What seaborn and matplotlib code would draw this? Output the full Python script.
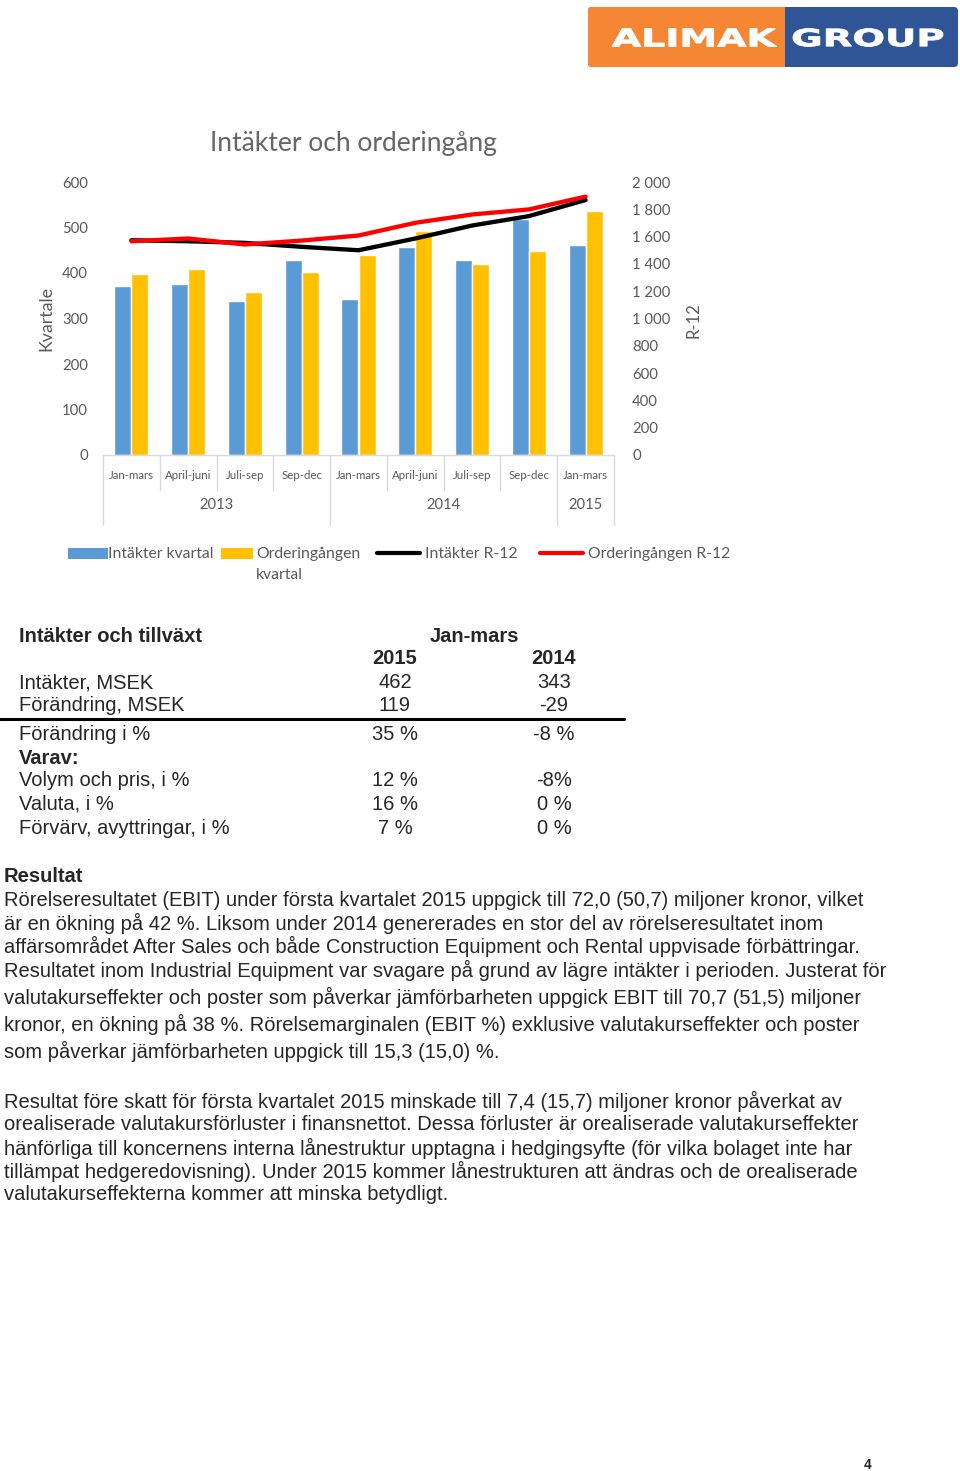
import numpy as np
import pandas as pd
import matplotlib
matplotlib.use("Agg")
import matplotlib.pyplot as plt
import seaborn as sns
from matplotlib.patches import Rectangle, FancyBboxPatch, PathPatch
from matplotlib.lines import Line2D
from matplotlib.textpath import TextPath
from matplotlib.font_manager import FontProperties
from matplotlib.transforms import Affine2D, blended_transform_factory
from matplotlib.ticker import FuncFormatter, MultipleLocator

# ---------------- data ----------------
quarters = ["Jan-mars", "April-juni", "Juli-sep", "Sep-dec",
            "Jan-mars", "April-juni", "Juli-sep", "Sep-dec", "Jan-mars"]
years = ["2013", "2014", "2015"]
year_counts = [4, 4, 1]
intakter_kvartal = [372, 375, 339, 428, 343, 457, 429, 518, 462]
order_kvartal = [398, 409, 359, 402, 439, 492, 420, 449, 536]
intakter_r12 = [1573, 1566, 1554, 1525, 1500, 1586, 1681, 1750, 1868]
order_r12 = [1566, 1586, 1542, 1571, 1608, 1701, 1762, 1799, 1893]
series_names = ["Intäkter kvartal", "Orderingången\nkvartal", "Intäkter R-12", "Orderingången R-12"]

table_title = "Intäkter och tillväxt"
table_period = "Jan-mars"
table_years = ["2015", "2014"]
table_rows = ["Intäkter, MSEK", "Förändring, MSEK", "Förändring i %", "Varav:",
              "Volym och pris, i %", "Valuta, i %", "Förvärv, avyttringar, i %"]
col_2015 = ["462", "119", "35 %", "", "12 %", "16 %", "7 %"]
col_2014 = ["343", "-29", "-8 %", "", "-8%", "0 %", "0 %"]

body_heading = "Resultat"
para1 = [
    "Rörelseresultatet (EBIT) under första kvartalet 2015 uppgick till 72,0 (50,7) miljoner kronor, vilket",
    "är en ökning på 42 %. Liksom under 2014 genererades en stor del av rörelseresultatet inom",
    "affärsområdet After Sales och både Construction Equipment och Rental uppvisade förbättringar.",
    "Resultatet inom Industrial Equipment var svagare på grund av lägre intäkter i perioden. Justerat för",
    "valutakurseffekter och poster som påverkar jämförbarheten uppgick EBIT till 70,7 (51,5) miljoner",
    "kronor, en ökning på 38 %. Rörelsemarginalen (EBIT %) exklusive valutakurseffekter och poster",
    "som påverkar jämförbarheten uppgick till 15,3 (15,0) %.",
]
para2 = [
    "Resultat före skatt för första kvartalet 2015 minskade till 7,4 (15,7) miljoner kronor påverkat av",
    "orealiserade valutakursförluster i finansnettot. Dessa förluster är orealiserade valutakurseffekter",
    "hänförliga till koncernens interna lånestruktur upptagna i hedgingsyfte (för vilka bolaget inte har",
    "tillämpat hedgeredovisning). Under 2015 kommer lånestrukturen att ändras och de orealiserade",
    "valutakurseffekterna kommer att minska betydligt.",
]
page_number = "4"

# ---------------- style ----------------
sns.set_theme(style="white")
plt.rcParams["font.family"] = ["Lato", "DejaVu Sans"]

W, H = 960, 1471
fig = plt.figure(figsize=(W / 100, H / 100), dpi=100)
fig.patch.set_facecolor("white")

def fx(x):
    return x / W

def fy(y):
    return 1 - y / H

BLUE = "#5B9BD5"
YELLOW = "#FFC000"
GRAY = "#595959"
LGRAY = "#D9D9D9"

# ---------------- logo ----------------
lax = fig.add_axes([fx(588), fy(67), fx(958 - 588), 60 / H])
lax.set_xlim(0, 370)
lax.set_ylim(0, 60)
lax.axis("off")
blue_box = FancyBboxPatch((0, 0), 370, 60, boxstyle="round,pad=0,rounding_size=4",
                          fc="#2F5597", ec="none")
lax.add_patch(blue_box)
orange_box = FancyBboxPatch((0, 0), 370, 60, boxstyle="round,pad=0,rounding_size=4",
                            fc="#F58634", ec="none")
lax.add_patch(orange_box)
clip = Rectangle((0, 0), 197, 60, transform=lax.transData)
orange_box.set_clip_path(clip)

def logo_word(word, x0, x1, y0, y1):
    tp = TextPath((0, 0), word, size=1,
                  prop=FontProperties(family="DejaVu Sans", weight="bold"))
    ext = tp.get_extents()
    tr = (Affine2D().translate(-ext.x0, -ext.y0)
          .scale((x1 - x0) / ext.width, (y1 - y0) / ext.height)
          .translate(x0, y0))
    lax.add_patch(PathPatch(tr.transform_path(tp), fc="white", ec="white", lw=0.6))

logo_word("ALIMAK", 24, 189, 20.5, 38.5)
logo_word("GROUP", 205, 355, 20.5, 38.5)

# ---------------- chart ----------------
ax = fig.add_axes([fx(103), fy(455), fx(614 - 103), (455 - 182) / H])
idx = np.arange(len(quarters))
df = pd.DataFrame({
    "idx": np.concatenate([idx, idx]),
    "value": intakter_kvartal + order_kvartal,
    "serie": [series_names[0]] * len(idx) + [series_names[1]] * len(idx),
})
sns.barplot(data=df, x="idx", y="value", hue="serie", palette=[BLUE, YELLOW],
            width=0.6, saturation=1, ax=ax, legend=False)
ax.set_ylim(0, 600)
ax.yaxis.set_major_locator(MultipleLocator(100))
ax.set_xlim(-0.5, len(quarters) - 0.5)
for s in ["top", "left", "right"]:
    ax.spines[s].set_visible(False)
ax.spines["bottom"].set_color(LGRAY)
ax.spines["bottom"].set_linewidth(1)
ax.tick_params(axis="y", length=0, pad=11, labelsize=10.7, labelcolor=GRAY)
ax.set_xticks(idx)
ax.set_xticklabels(quarters)
ax.tick_params(axis="x", length=0, pad=10.5, labelsize=8.3, labelcolor=GRAY)
ax.set_xlabel("")
ax.set_ylabel("Kvartale", fontsize=12.8, color=GRAY)
ax.yaxis.set_label_coords(-0.096, 0.50)
ax.set_title("Intäkter och orderingång", fontsize=19, color="#666666", pad=22)
ax.title.set_x(0.49)

ax2 = ax.twinx()
sns.lineplot(x=idx, y=intakter_r12, color="black", lw=3.1, ax=ax2)
sns.lineplot(x=idx, y=order_r12, color="#FF0000", lw=3.1, ax=ax2)
ax2.set_ylim(0, 2000)
ax2.yaxis.set_major_locator(MultipleLocator(200))
ax2.yaxis.set_major_formatter(FuncFormatter(lambda v, p: f"{int(v):,}".replace(",", " ")))
for s in ax2.spines.values():
    s.set_visible(False)
ax2.tick_params(axis="y", length=0, pad=13, labelsize=10.7, labelcolor=GRAY)
ax2.set_ylabel("R-12", fontsize=12, color=GRAY)
ax2.yaxis.set_label_coords(1.14, 0.495)
ax.set_xlim(-0.5, len(quarters) - 0.5)

# multi-level category separators and year labels
btr = blended_transform_factory(ax.transData, ax.transAxes)
short_y = -(490 - 455) / 273
long_y = -(525 - 455) / 273
year_starts = np.concatenate([[0], np.cumsum(year_counts)])
for b in range(len(quarters) + 1):
    yb = long_y if b in year_starts else short_y
    ax.plot([b - 0.5, b - 0.5], [0, yb], transform=btr, color=LGRAY, lw=1, clip_on=False)
for i, yr in enumerate(years):
    cx = (year_starts[i] + year_starts[i + 1] - 1) / 2
    ax.text(cx, -(505 - 455) / 273, yr, transform=btr, ha="center", va="center",
            fontsize=10.6, color=GRAY)

# legend (manual placement matching the original)
LFS = 11.3
fig.add_artist(Rectangle((fx(68), fy(559)), fx(40), 11 / H, transform=fig.transFigure,
                         fc=BLUE, ec="none"))
fig.text(fx(108), fy(554), series_names[0], ha="left", va="center", fontsize=LFS, color=GRAY)
fig.add_artist(Rectangle((fx(221), fy(559)), fx(32), 11 / H, transform=fig.transFigure,
                         fc=YELLOW, ec="none"))
fig.text(fx(256), fy(554), series_names[1].split("\n")[0], ha="left", va="center",
         fontsize=LFS, color=GRAY)
fig.text(fx(256), fy(575), series_names[1].split("\n")[1], ha="left", va="center",
         fontsize=LFS, color=GRAY)
fig.add_artist(Line2D([fx(377), fx(420)], [fy(553), fy(553)], transform=fig.transFigure,
                      color="black", lw=3))
fig.text(fx(425), fy(554), series_names[2], ha="left", va="center", fontsize=LFS, color=GRAY)
fig.add_artist(Line2D([fx(540), fx(583)], [fy(553), fy(553)], transform=fig.transFigure,
                      color="#FF0000", lw=3))
fig.text(fx(588), fy(554), series_names[3], ha="left", va="center", fontsize=LFS, color=GRAY)

# ---------------- table ----------------
BODY = ["Liberation Sans", "DejaVu Sans"]
FS = 14.5
fig.text(fx(19), fy(636), table_title, ha="left", va="center", fontsize=FS,
         fontweight="bold", family=BODY)
fig.text(fx(474), fy(636), table_period, ha="center", va="center", fontsize=FS,
         fontweight="bold", family=BODY)
fig.text(fx(395), fy(659), table_years[0], ha="center", va="center", fontsize=FS,
         fontweight="bold", family=BODY)
fig.text(fx(554), fy(659), table_years[1], ha="center", va="center", fontsize=FS,
         fontweight="bold", family=BODY)
row_y = [683, 706, 734, 758, 781, 804, 828]
for lab, a, b, yy in zip(table_rows, col_2015, col_2014, row_y):
    fig.text(fx(19), fy(yy), lab, ha="left", va="center", fontsize=FS, family=BODY,
             fontweight="bold" if lab == "Varav:" else "normal")
    fig.text(fx(395), fy(yy), a, ha="center", va="center", fontsize=FS, family=BODY)
    fig.text(fx(554), fy(yy), b, ha="center", va="center", fontsize=FS, family=BODY)
fig.add_artist(Line2D([0, fx(624)], [fy(719), fy(719)], transform=fig.transFigure,
                      color="black", lw=2.2))

# ---------------- body text ----------------
fig.text(fx(4), fy(877), body_heading, ha="left", va="center", fontsize=FS,
         fontweight="bold", family=BODY)
p1_y = [900, 923, 946, 970, 997, 1024, 1051]
for line, yy in zip(para1, p1_y):
    fig.text(fx(4), fy(yy), line, ha="left", va="center", fontsize=FS, family=BODY)
p2_y = [1101, 1124, 1148, 1171, 1194]
for line, yy in zip(para2, p2_y):
    fig.text(fx(4), fy(yy), line, ha="left", va="center", fontsize=FS, family=BODY)

fig.text(fx(868), fy(1465), page_number, ha="center", va="center", fontsize=10,
         fontweight="bold", family=BODY)

fig.savefig("out.png", dpi=100)
